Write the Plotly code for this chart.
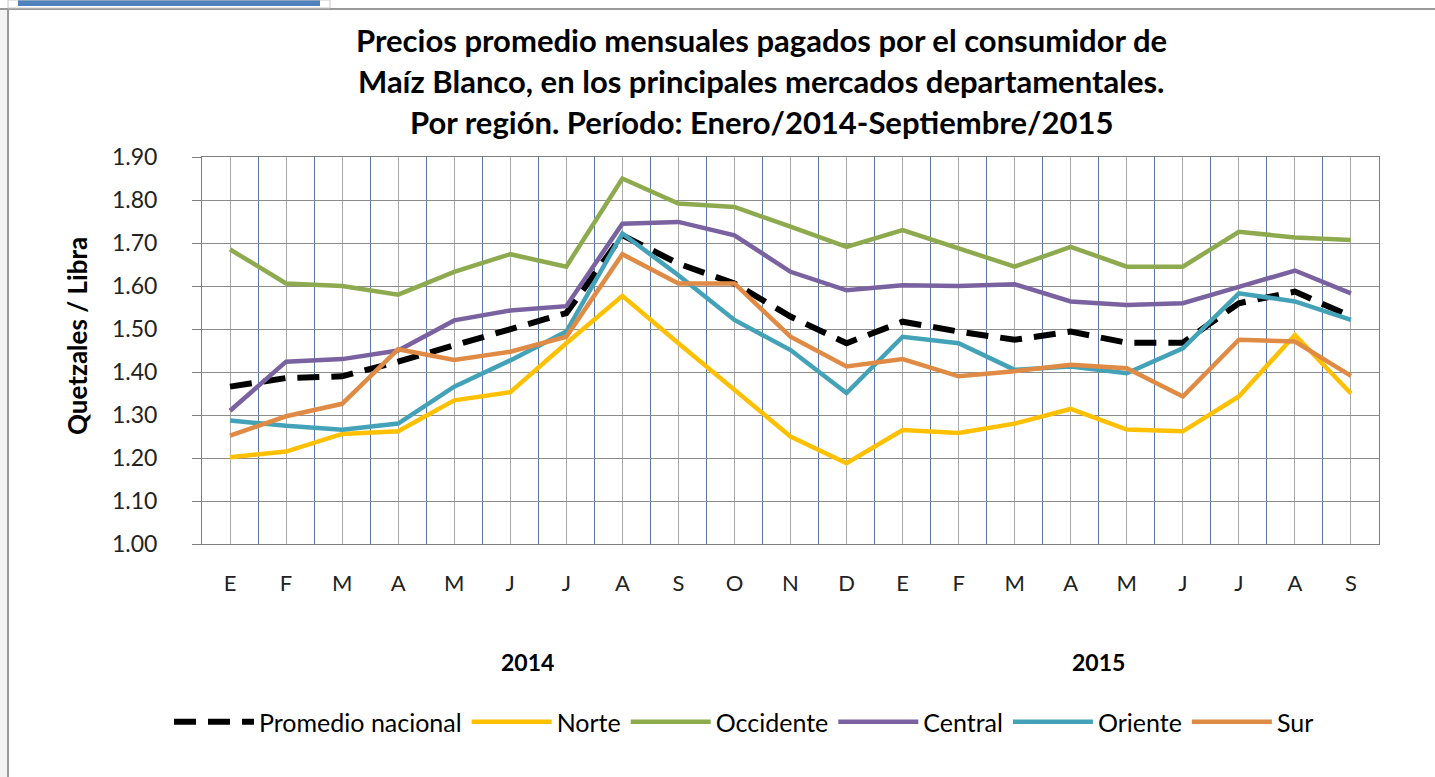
import plotly.graph_objects as go

months = ["E", "F", "M", "A", "M", "J", "J", "A", "S", "O", "N", "D",
          "E", "F", "M", "A", "M", "J", "J", "A", "S"]
years = ["2014", "2015"]

promedio = [1.366, 1.386, 1.390, 1.424, 1.462, 1.500, 1.537, 1.718, 1.652, 1.606, 1.529, 1.467,
            1.517, 1.494, 1.475, 1.494, 1.468, 1.468, 1.560, 1.587, 1.529]
norte = [1.202, 1.215, 1.256, 1.262, 1.334, 1.353, 1.467, 1.577, 1.467, 1.359, 1.250, 1.188,
         1.265, 1.258, 1.280, 1.314, 1.266, 1.262, 1.343, 1.486, 1.350]
occidente = [1.685, 1.606, 1.600, 1.580, 1.633, 1.674, 1.645, 1.850, 1.792, 1.784, 1.738, 1.691,
             1.730, 1.687, 1.645, 1.691, 1.645, 1.645, 1.726, 1.713, 1.707]
central = [1.310, 1.424, 1.430, 1.450, 1.520, 1.543, 1.553, 1.745, 1.749, 1.718, 1.633, 1.590,
           1.602, 1.600, 1.604, 1.564, 1.556, 1.560, 1.598, 1.636, 1.583]
oriente = [1.287, 1.275, 1.266, 1.280, 1.366, 1.427, 1.494, 1.722, 1.625, 1.521, 1.451, 1.351,
           1.482, 1.467, 1.405, 1.413, 1.397, 1.455, 1.583, 1.564, 1.521]
sur = [1.252, 1.297, 1.326, 1.453, 1.428, 1.447, 1.482, 1.674, 1.606, 1.606, 1.482, 1.413,
       1.430, 1.390, 1.402, 1.417, 1.409, 1.343, 1.475, 1.471, 1.391]

series = [
    ("Promedio nacional", promedio, "#000000", 6, "22px,12px"),
    ("Norte", norte, "#FFC000", 4.5, "solid"),
    ("Occidente", occidente, "#8DAA4F", 4.5, "solid"),
    ("Central", central, "#7A62A0", 4.5, "solid"),
    ("Oriente", oriente, "#44A2B8", 4.5, "solid"),
    ("Sur", sur, "#E08B45", 4.5, "solid"),
]

FONT = "Lato"
W, H = 1435, 777
L, R, T, B = 202, 1379, 157, 544


def px(x):
    return (x - L) / (R - L)


def py(y):
    return (B - y) / (B - T)


xs = list(range(len(months)))
fig = go.Figure()
for name, vals, color, width, dash in series:
    fig.add_trace(go.Scatter(
        x=xs, y=vals, mode="lines", name=name,
        line=dict(color=color, width=width, dash=dash),
    ))

title_lines = [
    "Precios promedio mensuales pagados por el consumidor de",
    "Maíz Blanco, en los principales mercados departamentales.",
    "Por región. Período: Enero/2014-Septiembre/2015",
]
annotations = []
for i, t in enumerate(title_lines):
    annotations.append(dict(
        text="<b>%s</b>" % t, xref="paper", yref="paper",
        x=px(761), y=py(40 + 41 * i), xanchor="center", yanchor="middle",
        showarrow=False, font=dict(family=FONT, size=31, color="#000000"),
    ))
for yr, xpos in zip(years, [5.3, 15.5]):
    annotations.append(dict(
        text="<b>%s</b>" % yr, xref="x", yref="paper",
        x=xpos, y=py(662), xanchor="center", yanchor="middle",
        showarrow=False, font=dict(family=FONT, size=23, color="#000000"),
    ))
annotations.append(dict(
    text="<b>Quetzales / Libra</b>", xref="paper", yref="paper",
    x=px(77), y=py(336), xanchor="center", yanchor="middle", textangle=-90,
    showarrow=False, font=dict(family=FONT, size=26, color="#000000"),
))

shapes = [
    dict(type="rect", xref="paper", yref="paper", x0=px(0), x1=px(8), y0=py(777), y1=py(10),
         fillcolor="#F3F3F3", line=dict(width=0), layer="below"),
    dict(type="line", xref="paper", yref="paper", x0=px(0), x1=px(1435), y0=py(9), y1=py(9),
         line=dict(color="#9A9A9A", width=2)),
    dict(type="line", xref="paper", yref="paper", x0=px(8), x1=px(8), y0=py(9), y1=py(777),
         line=dict(color="#9A9A9A", width=2)),
    dict(type="rect", xref="paper", yref="paper", x0=px(18), x1=px(320), y0=py(6), y1=py(0),
         fillcolor="#4F81BD", line=dict(width=0)),
    dict(type="rect", xref="paper", yref="paper", x0=px(8), x1=px(330), y0=py(8), y1=py(0),
         fillcolor="rgba(0,0,0,0)", line=dict(color="#C8C8C8", width=1)),
]

fig.update_layout(
    width=W, height=H,
    margin=dict(l=L, r=W - R, t=T, b=H - B, autoexpand=False),
    paper_bgcolor="#FFFFFF", plot_bgcolor="#FFFFFF",
    font=dict(family=FONT, size=22, color="#000000"),
    showlegend=True,
    legend=dict(orientation="h", x=px(744), y=py(722), xanchor="center", yanchor="middle",
                font=dict(family=FONT, size=25, color="#000000"),
                itemwidth=80, tracegroupgap=0, bgcolor="rgba(0,0,0,0)"),
    annotations=annotations,
    shapes=shapes,
)
fig.update_xaxes(
    range=[-0.5, len(months) - 0.5], tickmode="array", tickvals=xs, ticktext=months,
    showgrid=True, gridcolor="#A9A9A9", gridwidth=1,
    minor=dict(tickmode="array", tickvals=[i - 0.5 for i in range(len(months) + 1)],
               showgrid=True, gridcolor="#5876A8", gridwidth=1),
    showline=True, linecolor="#7F7F7F", linewidth=1, mirror=True,
    ticks="", ticklabelstandoff=20, zeroline=False,
    tickfont=dict(family=FONT, size=22, color="#222222"),
)
fig.update_yaxes(
    range=[1.0, 1.9], dtick=0.1, tick0=1.0, tickformat=".2f",
    showgrid=True, gridcolor="#8C8C8C", gridwidth=1,
    showline=True, linecolor="#7F7F7F", linewidth=1, mirror=True,
    ticks="outside", ticklen=9, tickcolor="#7F7F7F", ticklabelstandoff=30,
    zeroline=False, tickfont=dict(family=FONT, size=23, color="#222222"),
)

fig.write_html("out.html", config={"displayModeBar": False},
               post_script="document.body.style.margin='0px';")
